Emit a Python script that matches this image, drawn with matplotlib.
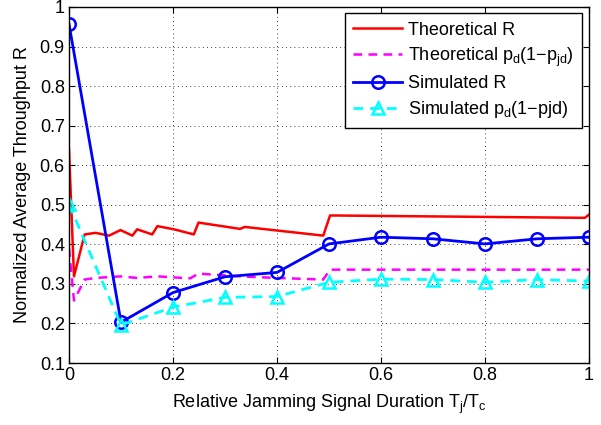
import matplotlib
matplotlib.use("Agg")
import matplotlib.pyplot as plt

plt.rcParams['font.family'] = ['Liberation Sans', 'DejaVu Sans']
plt.rcParams['mathtext.fontset'] = 'custom'
plt.rcParams['mathtext.rm'] = 'Liberation Sans'
plt.rcParams['mathtext.it'] = 'Liberation Sans'
plt.rcParams['mathtext.default'] = 'regular'

# Theoretical R
theo_r_x = [0, 0.0096, 0.030, 0.051, 0.077, 0.099, 0.122, 0.131, 0.160, 0.170,
            0.202, 0.240, 0.249, 0.329, 0.338, 0.489, 0.502, 0.992, 1.0]
theo_r_y = [0.64, 0.319, 0.425, 0.429, 0.422, 0.436, 0.422, 0.438, 0.425, 0.446,
            0.438, 0.425, 0.455, 0.439, 0.444, 0.422, 0.473, 0.467, 0.475]

# Theoretical pd(1-pjd)
theo_p_x = [0, 0.0096, 0.030, 0.051, 0.099, 0.131, 0.170, 0.233, 0.249, 0.329,
            0.40, 0.489, 0.502, 1.0]
theo_p_y = [0.39, 0.258, 0.311, 0.315, 0.319, 0.315, 0.319, 0.314, 0.326, 0.319,
            0.315, 0.311, 0.336, 0.336]

# Simulated
sim_x = [0, 0.1, 0.2, 0.3, 0.4, 0.5, 0.6, 0.7, 0.8, 0.9, 1.0]
sim_r = [0.957, 0.203, 0.278, 0.318, 0.329, 0.401, 0.418, 0.414, 0.401, 0.414, 0.418]
sim_p = [0.501, 0.196, 0.241, 0.266, 0.268, 0.304, 0.312, 0.311, 0.304, 0.311, 0.307]

x_ticks = [0, 0.2, 0.4, 0.6, 0.8, 1]
x_labels = ['0', '0.2', '0.4', '0.6', '0.8', '1']
y_ticks = [0.1, 0.2, 0.3, 0.4, 0.5, 0.6, 0.7, 0.8, 0.9, 1]
y_labels = ['0.1', '0.2', '0.3', '0.4', '0.5', '0.6', '0.7', '0.8', '0.9', '1']

FS = 13

fig = plt.figure(figsize=(6.01, 4.25), dpi=100)
ax = fig.add_axes([69/601, 62/425, 520/601, 356/425])

ax.plot(theo_r_x, theo_r_y, color=(1, 0, 0), lw=1.8, label='Theoretical R')
ax.plot(theo_p_x, theo_p_y, color=(1, 0, 1), lw=1.8, ls=(0, (3.5, 2.5)),
        label='Theoretical p$_{d}$(1\u2212p$_{jd}$)')
ax.plot(sim_x, sim_r, color=(0, 0, 1), lw=2, marker='o', ms=9, mfc='none',
        mew=1.8, label='Simulated R')
ax.plot(sim_x, sim_p, color=(0, 1, 1), lw=2, ls=(0, (3.5, 2.5)), marker='^', ms=9,
        mfc='none', mew=1.8, label='Simulated p$_{d}$(1\u2212pjd)')

ax.set_xlim(0, 1)
ax.set_ylim(0.1, 1)
ax.set_xticks(x_ticks)
ax.set_xticklabels(x_labels)
ax.set_yticks(y_ticks)
ax.set_yticklabels(y_labels)
ax.tick_params(direction='in', top=True, right=True, labelsize=FS, length=4, width=0.8,
               pad=3)
ax.grid(True, color='black', ls=(0, (1, 4)), lw=0.6)
for s in ax.spines.values():
    s.set_linewidth(1.0)

ax.set_xlabel('Relative Jamming Signal Duration T$_{j}$/T$_{c}$', fontsize=FS, labelpad=6)
ax.set_ylabel('Normalized Average Throughput R', fontsize=FS, labelpad=6)

leg = ax.legend(loc='upper right', bbox_to_anchor=(0.987, 0.982), fontsize=FS,
                fancybox=False, framealpha=1, edgecolor='black', handlelength=2.7,
                borderaxespad=0, labelspacing=0.38, handletextpad=0.35, borderpad=0.45)
leg.get_frame().set_linewidth(1.0)

fig.savefig('out.png', dpi=100)
